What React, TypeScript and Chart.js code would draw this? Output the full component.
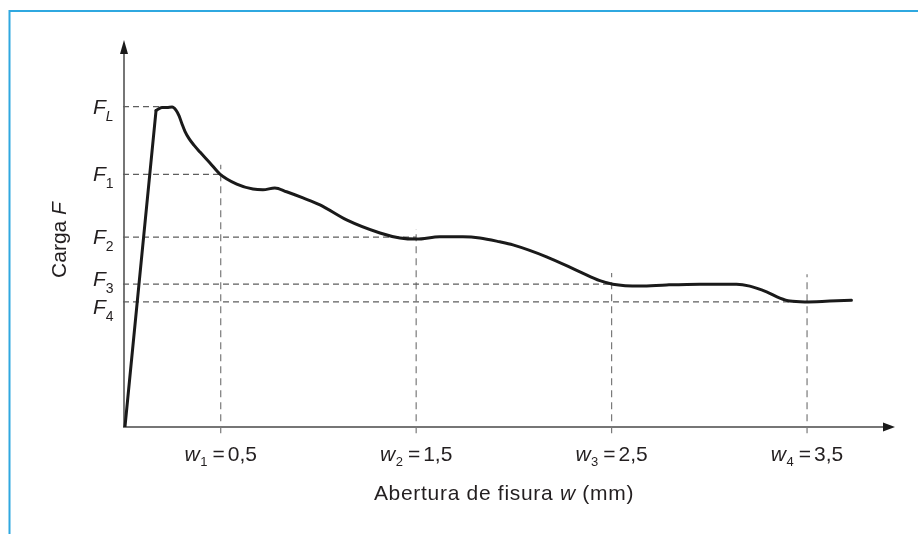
import { useEffect, useRef } from 'react';
import { Chart, registerables } from 'chart.js';
Chart.register(...registerables);

// ---- data ----
const riseW = [0.01, 0.169];
const riseF = [0, 82.2];
const curveW = [0.169, 0.199, 0.225, 0.251, 0.271, 0.287, 0.302, 0.317, 0.338, 0.363, 0.394, 0.445, 0.496, 0.582, 0.665, 0.716, 0.777, 0.837, 0.921, 1.008, 1.144, 1.315, 1.417, 1.502, 1.621, 1.739, 1.826, 1.928, 1.995, 2.167, 2.338, 2.44, 2.506, 2.645, 2.781, 2.951, 3.139, 3.207, 3.293, 3.361, 3.412, 3.488, 3.616, 3.727];
const curveF = [82.2, 83.0, 83.0, 83.1, 82.3, 80.8, 78.7, 76.8, 74.9, 73.2, 71.4, 68.6, 65.7, 63.1, 61.8, 61.6, 62.1, 61.1, 59.5, 57.7, 53.8, 50.4, 49.1, 48.8, 49.4, 49.4, 49.1, 48.1, 47.3, 44.2, 40.3, 38.0, 37.1, 36.6, 36.9, 37.1, 37.1, 36.6, 35.1, 33.5, 32.7, 32.5, 32.7, 32.9];
const fLevels = [83.2, 65.6, 49.3, 37.1, 32.5];
const fSubs = ['L', '1', '2', '3', '4'];
const fLineEnds = [0.25, 0.5, 1.5, 2.5, 3.5];
const wTicks = [0.5, 1.5, 2.5, 3.5];
const wSubs = ['1', '2', '3', '4'];
const wTickText = ['0,5', '1,5', '2,5', '3,5'];
const wLineTops = [68.1, 51.4, 40.0, 39.7];
const wLineBottom = -1.6;
const xMax = 3.95;
const yMax = 100;
const xTitle = ['Abertura de fisura ', 'w', ' (mm)'];
const yTitle = ['Carga ', 'F'];

// ---- styles ----
const FONT = '"Liberation Sans", Arial, Helvetica, sans-serif';
const TEXT = '#231f20';
const AXIS = '#4a4a4a';
const fLabelShift = [0, 0, 0, -5, 5];

type Part = { t: string; italic?: boolean; size?: number; dy?: number; gap?: number };

function fontOf(p: Part, base: number) {
  return `${p.italic ? 'italic ' : ''}${p.size ?? base}px ${FONT}`;
}
function measureParts(ctx: CanvasRenderingContext2D, parts: Part[], base: number) {
  let w = 0;
  for (const p of parts) {
    ctx.font = fontOf(p, base);
    w += (p.gap ?? 0) + ctx.measureText(p.t).width;
  }
  return w;
}
function drawParts(ctx: CanvasRenderingContext2D, parts: Part[], x: number, y: number, align: 'left' | 'center', base = 21) {
  const total = measureParts(ctx, parts, base);
  let cx = align === 'center' ? x - total / 2 : x;
  ctx.textAlign = 'left';
  ctx.textBaseline = 'alphabetic';
  ctx.fillStyle = TEXT;
  for (const p of parts) {
    ctx.font = fontOf(p, base);
    cx += p.gap ?? 0;
    ctx.fillText(p.t, cx, y + (p.dy ?? 0));
    cx += ctx.measureText(p.t).width;
  }
}

const decorPlugin = {
  id: 'decor',
  beforeDraw(chart: any) {
    const ctx = chart.ctx as CanvasRenderingContext2D;
    ctx.save();
    ctx.fillStyle = '#ffffff';
    ctx.fillRect(0, 0, chart.width, chart.height);
    ctx.strokeStyle = '#2fa8e0';
    ctx.lineWidth = 2;
    ctx.beginPath();
    ctx.moveTo(9.5, chart.height);
    ctx.lineTo(9.5, 11);
    ctx.lineTo(chart.width, 11);
    ctx.stroke();
    ctx.restore();
  },
  beforeDatasetsDraw(chart: any) {
    const ctx = chart.ctx as CanvasRenderingContext2D;
    const { right, top } = chart.chartArea;
    const x0 = chart.scales.x.getPixelForValue(0);
    const y0 = chart.scales.y.getPixelForValue(0);
    ctx.save();
    ctx.strokeStyle = AXIS;
    ctx.fillStyle = '#1a1a1a';
    ctx.lineWidth = 1.5;
    ctx.beginPath();
    ctx.moveTo(x0 + 1, y0);
    ctx.lineTo(x0 + 1, top + 10);
    ctx.moveTo(x0, y0);
    ctx.lineTo(right - 10, y0);
    ctx.stroke();
    // arrows
    ctx.beginPath();
    ctx.moveTo(x0 + 1, top - 2);
    ctx.lineTo(x0 + 1 - 4, top + 12);
    ctx.lineTo(x0 + 1 + 4, top + 12);
    ctx.closePath();
    ctx.fill();
    ctx.beginPath();
    ctx.moveTo(right, y0);
    ctx.lineTo(right - 12, y0 - 4.5);
    ctx.lineTo(right - 12, y0 + 4.5);
    ctx.closePath();
    ctx.fill();
    ctx.restore();
  },
  afterDraw(chart: any) {
    const ctx = chart.ctx as CanvasRenderingContext2D;
    const xs = chart.scales.x;
    const ys = chart.scales.y;
    const { left, right } = chart.chartArea;
    const y0 = ys.getPixelForValue(0);
    ctx.save();
    // x tick labels
    wTicks.forEach((w, i) => {
      drawParts(ctx, [
        { t: 'w', italic: true },
        { t: wSubs[i], size: 13, dy: 5, gap: 0.5 },
        { t: '=', gap: 5 },
        { t: wTickText[i], gap: 3 },
      ], xs.getPixelForValue(w), y0 + 34, 'center');
    });
    // y labels
    fLevels.forEach((f, i) => {
      const py = ys.getPixelForValue(f) + 7 + fLabelShift[i];
      drawParts(ctx, [
        { t: 'F', italic: true },
        { t: fSubs[i], size: 14, dy: 7, italic: fSubs[i] === 'L' },
      ], 93, py, 'left');
    });
    // x title
    (ctx as any).letterSpacing = '0.7px';
    drawParts(ctx, [
      { t: xTitle[0] },
      { t: xTitle[1], italic: true },
      { t: xTitle[2] },
    ], (left + right) / 2 - 5, y0 + 73, 'center');
    (ctx as any).letterSpacing = '0px';
    // y title
    ctx.translate(66, 240);
    ctx.rotate(-Math.PI / 2);
    drawParts(ctx, [{ t: yTitle[0] }, { t: yTitle[1], italic: true }], 0, 0, 'center');
    ctx.restore();
  },
};

export default function App() {
  const ref = useRef<HTMLCanvasElement | null>(null);
  useEffect(() => {
    if (!ref.current) return;
    const datasets: any[] = [];
    datasets.push({
      data: riseW.map((w, i) => ({ x: w, y: riseF[i] })),
      borderColor: '#1a1a1a', borderWidth: 3, pointRadius: 0, showLine: true,
      borderCapStyle: 'round', borderJoinStyle: 'round', tension: 0, order: 0,
    });
    datasets.push({
      data: curveW.map((w, i) => ({ x: w, y: curveF[i] })),
      borderColor: '#1a1a1a', borderWidth: 3, pointRadius: 0, showLine: true,
      borderCapStyle: 'round', borderJoinStyle: 'round', cubicInterpolationMode: 'monotone', order: 0,
    });
    fLevels.forEach((f, i) => {
      datasets.push({
        data: [{ x: 0, y: f }, { x: fLineEnds[i], y: f }],
        borderColor: '#5e5e5e', borderWidth: 1.2, borderDash: [6, 4], pointRadius: 0,
        showLine: true, order: 2, clip: false,
      });
    });
    wTicks.forEach((w, i) => {
      datasets.push({
        data: [{ x: w, y: wLineBottom }, { x: w, y: wLineTops[i] }],
        borderColor: '#7a7a7a', borderWidth: 1.2, borderDash: [7, 5], pointRadius: 0,
        showLine: true, order: 2, clip: false,
      });
    });
    const chart = new Chart(ref.current, {
      type: 'scatter',
      data: { datasets },
      options: {
        responsive: false,
        animation: false,
        devicePixelRatio: 1,
        layout: { padding: { left: 123, right: 23, top: 42, bottom: 107 } },
        plugins: { legend: { display: false }, tooltip: { enabled: false } },
        events: [],
        scales: {
          x: { type: 'linear', min: 0, max: xMax, display: false },
          y: { type: 'linear', min: 0, max: yMax, display: false },
        },
      },
      plugins: [decorPlugin],
    } as any);
    return () => chart.destroy();
  }, []);
  return (
    <div style={{ position: 'fixed', left: 0, top: 0, width: 918, height: 534, background: '#fff' }}>
      <canvas ref={ref} width={918} height={534} style={{ display: 'block', width: 918, height: 534 }} />
    </div>
  );
}
